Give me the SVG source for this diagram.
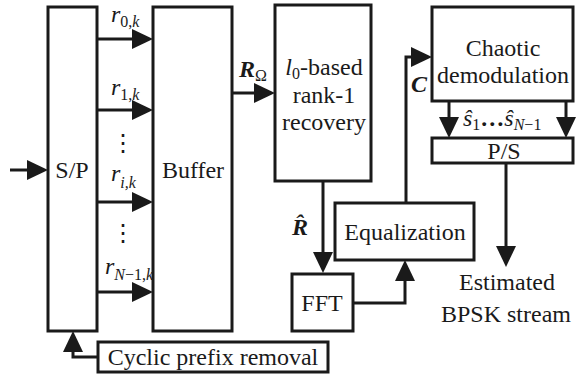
<svg xmlns="http://www.w3.org/2000/svg" width="576" height="379" viewBox="0 0 576 379">
<style>
text{font-family:'Liberation Serif','DejaVu Serif','Times New Roman',Times,serif;fill:#1a1a1a}
.box{fill:#fff;stroke:#1a1a1a;stroke-width:3}
.t{font-size:24px;text-anchor:middle}
.m{font-size:24px;font-style:italic}
.s{font-size:16px}
.b{font-weight:bold}
.i{font-style:italic}
.c{fill:none;stroke:#1a1a1a;stroke-width:3;marker-end:url(#ah)}
</style>
<defs>
<marker id="ah" viewBox="0 0 21 20" refX="11" refY="10" markerWidth="21" markerHeight="20" markerUnits="userSpaceOnUse" orient="auto">
<path d="M0,0 L21,10 L0,20 Z" fill="#1a1a1a"/>
</marker>
</defs>
<g id="connectors">
<path class="c" d="M10,170 H38"/>
<path class="c" d="M97,39 H143"/>
<path class="c" d="M97,110 H143"/>
<path class="c" d="M97,202 H143"/>
<path class="c" d="M97,292 H143"/>
<path class="c" d="M232,93 H265"/>
<path class="c" d="M323,181 V263"/>
<path class="c" d="M353,303 H405 V270"/>
<path class="c" d="M406,203 V57 H422"/>
<path class="c" d="M449,101 V128"/>
<path class="c" d="M566,101 V128"/>
<path class="c" d="M506,163 V257"/>
<path class="c" d="M98,357 H73 V341"/>
</g>
<g id="labels">
<text class="m" x="111" y="22" font-family="Liberation Serif, serif">r<tspan class="s" font-style="normal" dy="5">0,<tspan class="i">k</tspan></tspan></text>
<text class="m" x="111" y="95" font-family="Liberation Serif, serif">r<tspan class="s" font-style="normal" dy="5">1,<tspan class="i">k</tspan></tspan></text>
<text class="t" x="123" y="151" font-family="Liberation Serif, serif" font-size="20">⋮</text>
<text class="m" x="111" y="181" font-family="Liberation Serif, serif">r<tspan class="s" dy="7">i,k</tspan></text>
<text class="t" x="123" y="241" font-family="Liberation Serif, serif" font-size="20">⋮</text>
<text class="m" x="105" y="274" font-family="Liberation Serif, serif">r<tspan class="s" dy="6">N<tspan font-style="normal">−1,</tspan>k</tspan></text>
<text class="m b" x="239" y="77" font-family="Liberation Serif, serif">R<tspan class="s" font-weight="normal" font-style="normal" dy="4">Ω</tspan></text>
<text class="m b" x="292" y="235" font-family="Liberation Serif, serif">R̂</text>
<text class="m b" x="411" y="92" font-family="Liberation Serif, serif">C</text>
<text class="m" x="463" y="126" font-family="Liberation Serif, serif">ŝ<tspan class="s" font-style="normal" dy="4">1</tspan><tspan class="b" font-style="normal" dy="-4">…</tspan>ŝ<tspan class="s" dy="4">N<tspan font-style="normal">−1</tspan></tspan></text>
<text class="t" x="507" y="290" font-family="Liberation Serif, serif">Estimated</text>
<text class="t" x="506" y="322" font-family="Liberation Serif, serif">BPSK stream</text>
</g>
<g id="sp"><rect class="box" x="48" y="7" width="49" height="324"/><text class="t" x="72" y="178" font-family="Liberation Serif, serif">S/P</text></g>
<g id="buffer"><rect class="box" x="153" y="7" width="79" height="324"/><text class="t" x="193" y="178" font-family="Liberation Serif, serif">Buffer</text></g>
<g id="recovery"><rect class="box" x="275" y="5" width="96" height="176"/>
<text class="t" x="324" y="75" font-family="Liberation Serif, serif"><tspan class="i">l</tspan><tspan font-size="16" dy="4">0</tspan><tspan dy="-4">-based</tspan></text>
<text class="t" x="324" y="103" font-family="Liberation Serif, serif">rank-1</text>
<text class="t" x="324" y="130" font-family="Liberation Serif, serif">recovery</text></g>
<g id="fft"><rect class="box" x="292" y="274" width="61" height="57"/><text class="t" x="322" y="311" font-family="Liberation Serif, serif">FFT</text></g>
<g id="equalization"><rect class="box" x="335" y="203" width="139" height="57"/><text class="t" x="405" y="240" font-family="Liberation Serif, serif">Equalization</text></g>
<g id="chaotic"><rect class="box" x="432" y="7" width="141" height="94"/><text class="t" x="503" y="56" font-family="Liberation Serif, serif">Chaotic</text><text class="t" x="503" y="83" font-family="Liberation Serif, serif">demodulation</text></g>
<g id="ps"><rect class="box" x="432" y="138" width="141" height="25"/><text class="t" x="504" y="159" font-family="Liberation Serif, serif">P/S</text></g>
<g id="cp"><rect class="box" x="98" y="342" width="230" height="30"/><text class="t" x="213" y="365" font-family="Liberation Serif, serif">Cyclic prefix removal</text></g>
</svg>
